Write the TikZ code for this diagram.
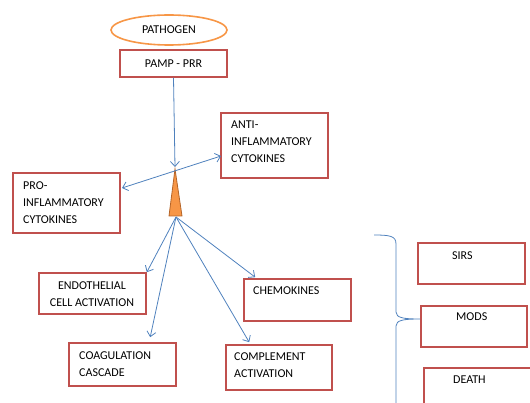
\documentclass[tikz,border=0pt]{standalone}
\usepackage{fontspec}
\setmainfont{Carlito}
\usetikzlibrary{arrows.meta,shapes.geometric,calc}
\definecolor{boxred}{RGB}{192,80,77}
\definecolor{lineblue}{RGB}{79,129,189}
\definecolor{orangeF}{RGB}{247,150,70}
\definecolor{orangeD}{RGB}{180,100,40}
\tikzset{
  redbox/.style={draw=boxred, line width=1.6pt, rectangle, inner sep=0pt},
  txt/.style={inner sep=0pt, anchor=north west, align=left, font=\fontsize{12}{17}\selectfont},
  conn/.style={draw=lineblue, line width=0.8pt, -{Straight Barb[length=5pt,width=9pt]}},
}
\begin{document}
\begin{tikzpicture}[x=1pt,y=-1pt]
\useasboundingbox (0,0) rectangle (530,403);
% pathogen
\node[ellipse, draw=orangeF, line width=1.6pt, minimum width=116pt, minimum height=30pt, inner sep=0pt,
  font=\fontsize{12}{17}\selectfont] (path) at (169,30) {PATHOGEN};
\node[redbox, minimum width=107pt, minimum height=27pt, font=\fontsize{12}{17}\selectfont] (pamp) at (173.5,63.5) {PAMP - PRR};
% triangle
\draw[fill=orangeF, draw=orangeD, line width=0.8pt] (175,169) -- (182,216) -- (169,216) -- cycle;
\coordinate (apex) at (175,167);
\coordinate (tri) at (176,217);
% boxes
\node[redbox, minimum width=107pt, minimum height=65pt] (anti) at (274.5,145.5) {};
\node[redbox, minimum width=107pt, minimum height=60pt] (pro) at (66.5,203) {};
\node[redbox, minimum width=107pt, minimum height=41pt] (endo) at (92.5,293.5) {};
\node[redbox, minimum width=107pt, minimum height=43pt] (coag) at (122.5,364.5) {};
\node[redbox, minimum width=107pt, minimum height=42pt] (chem) at (297.5,300) {};
\node[redbox, minimum width=106pt, minimum height=45pt] (comp) at (279,367.5) {};
\node[redbox, minimum width=107pt, minimum height=41pt] (sirs) at (471.5,263.5) {};
\node[redbox, minimum width=106pt, minimum height=41pt] (mods) at (474,326.5) {};
\node[redbox, minimum width=110pt, minimum height=50pt] (death) at (479,393) {};
% texts
\node[txt] (antiT) at (231,121) {ANTI-\\INFLAMMATORY\\CYTOKINES};
\node[txt] (proT) at (23,182) {PRO-\\INFLAMMATORY\\CYTOKINES};
\node[txt, anchor=north, align=center] (endoT) at (92,282) {ENDOTHELIAL\\CELL ACTIVATION};
\node[txt] (coagT) at (79,352) {COAGULATION\\CASCADE};
\node[txt] (chemT) at (253,287) {CHEMOKINES};
\node[txt] (compT) at (234,353) {COMPLEMENT\\ACTIVATION};
\node[txt] (sirsT) at (452,252) {SIRS};
\node[txt] (modsT) at (456,313) {MODS};
\node[txt] (deathT) at (453,376) {DEATH};
% connectors
\draw[conn] (pamp.south) -- (apex);
\coordinate (proE) at (122,188);
\coordinate (antiW) at (221,156);
\draw[conn, {Straight Barb[length=5pt,width=9pt]}-{Straight Barb[length=5pt,width=9pt]}] (proE) -- (antiW);
\draw[conn] (tri) -- (endo.north east);
\draw[conn] (tri) -- ($(coag.north west)+(82,-5)$);
\draw[conn] (tri) -- ($(comp.north west)+(24,-2)$);
\draw[conn] (tri) -- ($(chem.north west)+(12,-1)$);
% brace
\coordinate (brTop) at (374,235);
\coordinate (brTip) at (420,319);
\coordinate (brEnd) at (396,403);
\draw[lineblue, line width=0.8pt] (brTop) .. controls (390,235) and (396,236) .. (396,244)
  -- (396,312) .. controls (396,318) and (404,319) .. (brTip)
  (brTip) .. controls (404,319) and (396,320) .. (396,326) -- (brEnd);
\end{tikzpicture}
\end{document}
